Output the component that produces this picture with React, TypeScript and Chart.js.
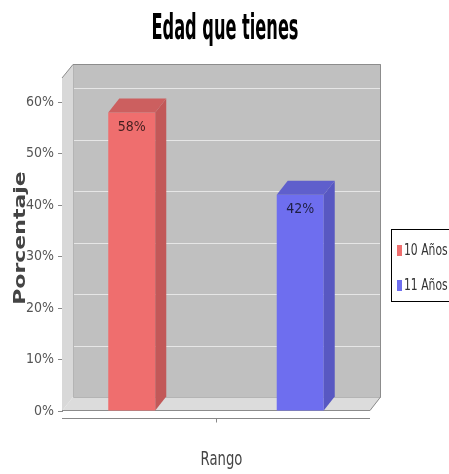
import React, { useEffect, useRef } from 'react';
import { Chart, registerables } from 'chart.js';

Chart.register(...registerables);

// ---- data ----
const categories = [''];
const seriesLabels = ['10 Años', '11 Años'];
const series10 = [58];
const series11 = [42];
const yTickValues = [0, 10, 20, 30, 40, 50, 60];
const titleText = 'Edad que tienes';
const yAxisTitle = 'Porcentaje';
const xAxisTitle = 'Rango';

// ---- styles ----
const frontColors = ['#ef6e6e', '#6e6eef'];
const sideColors = ['#c25858', '#5858c2'];
const topColors = ['#cc5f5f', '#5f5fcc'];
const DX = 11;
const DY = 14;

function poly(ctx: CanvasRenderingContext2D, pts: number[][]) {
  ctx.beginPath();
  ctx.moveTo(pts[0][0], pts[0][1]);
  for (let i = 1; i < pts.length; i++) ctx.lineTo(pts[i][0], pts[i][1]);
  ctx.closePath();
}

function scaledText(
  ctx: CanvasRenderingContext2D,
  text: string,
  x: number,
  y: number,
  sx: number,
  font: string,
  color: string,
  align: CanvasTextAlign,
  baseline: CanvasTextBaseline
) {
  ctx.save();
  ctx.translate(x, y);
  ctx.scale(sx, 1);
  ctx.font = font;
  ctx.fillStyle = color;
  ctx.textAlign = align;
  ctx.textBaseline = baseline;
  ctx.fillText(text, 0, 0);
  ctx.restore();
}

const plot3d = {
  id: 'plot3d',
  beforeDatasetsDraw(chart: any) {
    const { ctx, chartArea } = chart;
    const { left, right, top, bottom } = chartArea;
    const y = chart.scales.y;
    ctx.save();
    // back wall
    ctx.fillStyle = '#c0c0c0';
    ctx.fillRect(left + DX, top - DY, right - left, bottom - top);
    // left wall
    ctx.fillStyle = '#d8d8d8';
    poly(ctx, [[left, top], [left + DX, top - DY], [left + DX, bottom - DY], [left, bottom]]);
    ctx.fill();
    // floor
    ctx.fillStyle = '#dcdcdc';
    poly(ctx, [[left, bottom], [left + DX, bottom - DY], [right + DX, bottom - DY], [right, bottom]]);
    ctx.fill();
    // gridlines on back wall
    ctx.strokeStyle = '#e6e6e6';
    ctx.lineWidth = 1;
    yTickValues.forEach((v) => {
      if (v === 0) return;
      const py = Math.round(y.getPixelForValue(v) - DY) + 0.5;
      ctx.beginPath();
      ctx.moveTo(left + DX, py);
      ctx.lineTo(right + DX, py);
      ctx.stroke();
    });
    // inner edges
    ctx.strokeStyle = '#b4b4b4';
    ctx.beginPath();
    ctx.moveTo(left + DX + 0.5, top - DY);
    ctx.lineTo(left + DX + 0.5, bottom - DY + 0.5);
    ctx.lineTo(right + DX, bottom - DY + 0.5);
    ctx.stroke();
    // outline
    ctx.strokeStyle = '#8c8c8c';
    ctx.beginPath();
    ctx.moveTo(left, top);
    ctx.lineTo(left + DX, top - DY + 0.5);
    ctx.lineTo(right + DX - 0.5, top - DY + 0.5);
    ctx.lineTo(right + DX - 0.5, bottom - DY);
    ctx.lineTo(right, bottom - 0.5);
    ctx.lineTo(left, bottom - 0.5);
    ctx.stroke();
    ctx.restore();
  },
  afterDatasetsDraw(chart: any) {
    const { ctx } = chart;
    ctx.save();
    chart.data.datasets.forEach((ds: any, i: number) => {
      const meta = chart.getDatasetMeta(i);
      meta.data.forEach((bar: any, j: number) => {
        const { x, y, base, width } = bar.getProps(['x', 'y', 'base', 'width'], true);
        const l = x - width / 2;
        const r = x + width / 2;
        ctx.fillStyle = sideColors[i];
        poly(ctx, [[r, y], [r + DX, y - DY], [r + DX, base - DY], [r, base]]);
        ctx.fill();
        ctx.fillStyle = topColors[i];
        poly(ctx, [[l, y], [l + DX, y - DY], [r + DX, y - DY], [r, y]]);
        ctx.fill();
        scaledText(ctx, `${ds.data[j]}%`, x, y + 15, 0.9, '14px "DejaVu Sans"', 'rgba(0,0,0,0.72)', 'center', 'middle');
      });
    });
    ctx.restore();
  },
  afterDraw(chart: any) {
    const { ctx, chartArea } = chart;
    const { left, right, bottom } = chartArea;
    ctx.save();
    // title
    scaledText(ctx, titleText, 225, 39, 0.45, 'bold 36px "DejaVu Sans"', '#000', 'center', 'alphabetic');
    // y axis title (rotated)
    ctx.save();
    ctx.translate(25, 238);
    ctx.rotate(-Math.PI / 2);
    ctx.scale(1, 0.75);
    ctx.font = 'bold 22px "DejaVu Sans"';
    ctx.fillStyle = '#444';
    ctx.textAlign = 'center';
    ctx.textBaseline = 'alphabetic';
    ctx.fillText(yAxisTitle, 0, 0);
    ctx.restore();
    // category axis line + tick
    const axY = bottom + 7.5;
    ctx.strokeStyle = '#888';
    ctx.lineWidth = 1;
    ctx.beginPath();
    ctx.moveTo(left, axY);
    ctx.lineTo(right, axY);
    const cx = Math.round(chart.scales.x.getPixelForValue(0)) + 0.5;
    ctx.moveTo(cx, axY);
    ctx.lineTo(cx, axY + 4);
    ctx.stroke();
    // x axis title
    scaledText(ctx, xAxisTitle, (left + right + DX) / 2, 465, 0.66, '20px "DejaVu Sans"', '#444', 'center', 'alphabetic');
    // legend
    ctx.fillStyle = '#fff';
    ctx.fillRect(391, 229, 70, 73);
    ctx.strokeStyle = '#000';
    ctx.strokeRect(391.5, 229.5, 70, 72);
    const itemY = [250, 285];
    chart.data.datasets.forEach((ds: any, i: number) => {
      ctx.fillStyle = frontColors[i];
      ctx.fillRect(397, itemY[i] - 5, 5, 11);
      scaledText(ctx, ds.label, 404, itemY[i] + 1, 0.72, '15px "DejaVu Sans"', '#333', 'left', 'middle');
    });
    ctx.restore();
  },
};

export default function App() {
  const canvasRef = useRef<HTMLCanvasElement | null>(null);

  useEffect(() => {
    const canvas = canvasRef.current;
    if (!canvas) return;
    const values = [series10, series11];
    const chart = new Chart(canvas, {
      type: 'bar',
      data: {
        labels: categories,
        datasets: seriesLabels.map((label, i) => ({
          label,
          data: values[i],
          backgroundColor: frontColors[i],
          borderWidth: 0,
          categoryPercentage: 1.094,
          barPercentage: 0.279,
        })),
      },
      options: {
        responsive: false,
        animation: false,
        devicePixelRatio: 1,
        layout: { padding: { top: 78, left: 0, right: 79, bottom: 63 } },
        plugins: {
          legend: { display: false },
          title: { display: false },
          tooltip: { enabled: false },
        },
        scales: {
          x: { display: false },
          y: {
            min: 0,
            max: 64.7,
            afterFit: (scale: any) => {
              scale.width = 62;
            },
            afterBuildTicks: (scale: any) => {
              scale.ticks = yTickValues.map((v) => ({ value: v }));
            },
            border: { display: true, color: '#888' },
            grid: { drawOnChartArea: false, drawTicks: true, tickLength: 4, color: '#888' },
            ticks: {
              padding: 4,
              color: '#555',
              font: { family: '"DejaVu Sans Condensed", "DejaVu Sans"', size: 14 },
              callback: (v: any) => `${v}%`,
            },
          },
        },
      },
      plugins: [plot3d],
    });
    return () => chart.destroy();
  }, []);

  return (
    <div style={{ position: 'absolute', left: 0, top: 0, width: 449, height: 474, background: '#fff' }}>
      <canvas ref={canvasRef} width={449} height={474} style={{ display: 'block', width: 449, height: 474 }} />
    </div>
  );
}
